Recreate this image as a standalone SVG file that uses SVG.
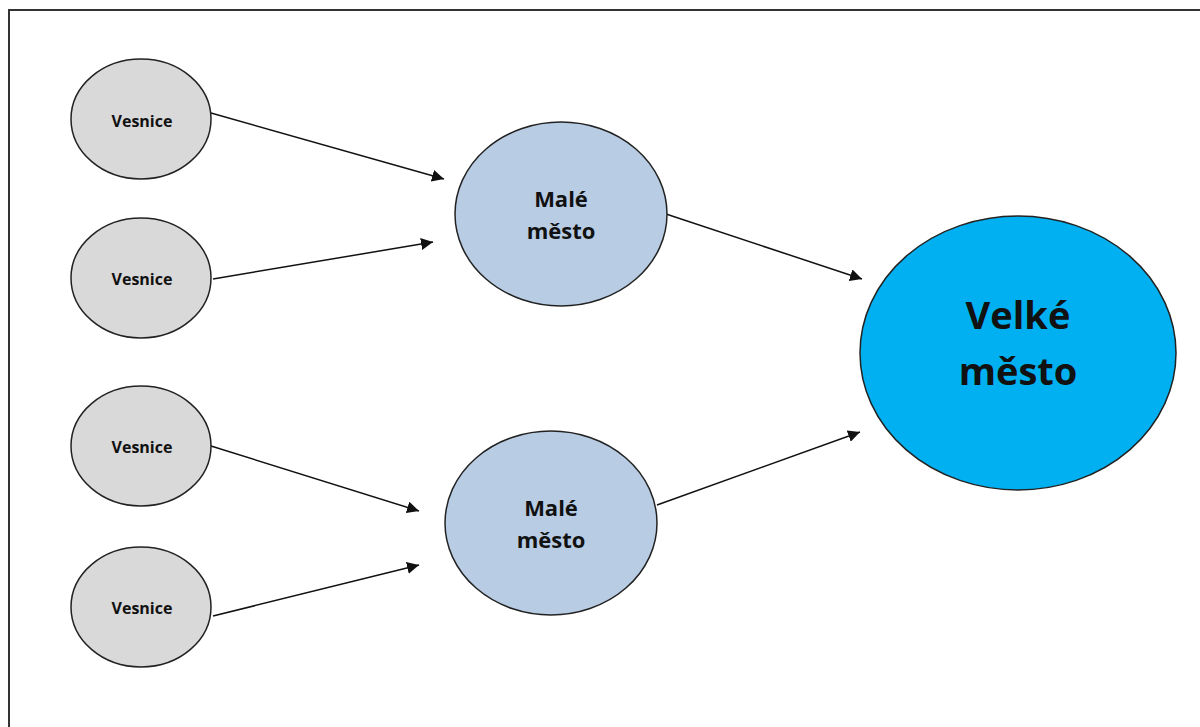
<svg xmlns="http://www.w3.org/2000/svg" width="1200" height="727" viewBox="0 0 1200 727">
<style>
.v{fill:#d9d9d9;stroke:#222;stroke-width:1.5}
.m{fill:#b8cce4;stroke:#222;stroke-width:1.5}
.b{fill:#00b0f0;stroke:#222;stroke-width:1.5}
text{font-family:"Open Sans","Noto Sans",sans-serif;font-weight:bold;fill:#111;text-anchor:middle}
.tv{font-size:16px}
.tm{font-size:22px}
.tb{font-size:38px}
.c{stroke:#111;stroke-width:1.5;fill:none;marker-end:url(#ah)}
</style>
<defs>
<marker id="ah" viewBox="0 0 10 10" refX="10" refY="5" markerWidth="12" markerHeight="12" markerUnits="userSpaceOnUse" orient="auto"><path d="M0,0 L10,5 L0,10 z" fill="#111"/></marker>
</defs>
<rect width="1200" height="727" fill="#fff"/>
<path d="M9,727 V10 H1200" fill="none" stroke="#333" stroke-width="2"/>
<g id="connectors">
<line class="c" x1="211" y1="113" x2="444" y2="179"/>
<line class="c" x1="213" y1="279" x2="433" y2="242"/>
<line class="c" x1="211" y1="446" x2="419" y2="511"/>
<line class="c" x1="213" y1="616" x2="419" y2="565"/>
<line class="c" x1="666" y1="214" x2="862" y2="279"/>
<line class="c" x1="657" y1="505" x2="860" y2="432"/>
</g>
<g id="vesnice1"><ellipse class="v" cx="141" cy="119" rx="70" ry="60"/><text class="tv" x="142" y="127">Vesnice</text></g>
<g id="vesnice2"><ellipse class="v" cx="141" cy="278" rx="70" ry="60"/><text class="tv" x="142" y="285">Vesnice</text></g>
<g id="vesnice3"><ellipse class="v" cx="141" cy="446" rx="70" ry="60"/><text class="tv" x="142" y="453">Vesnice</text></g>
<g id="vesnice4"><ellipse class="v" cx="141" cy="607" rx="70" ry="60"/><text class="tv" x="142" y="614">Vesnice</text></g>
<g id="male1"><ellipse class="m" cx="561" cy="214" rx="106" ry="92"/><text class="tm" x="561" y="207">Malé</text><text class="tm" x="561" y="239">město</text></g>
<g id="male2"><ellipse class="m" cx="551" cy="523" rx="106" ry="92"/><text class="tm" x="551" y="516">Malé</text><text class="tm" x="551" y="548">město</text></g>
<g id="velke"><ellipse class="b" cx="1018" cy="353" rx="158" ry="137"/><text class="tb" x="1018" y="329">Velké</text><text class="tb" x="1018" y="385">město</text></g>
</svg>
